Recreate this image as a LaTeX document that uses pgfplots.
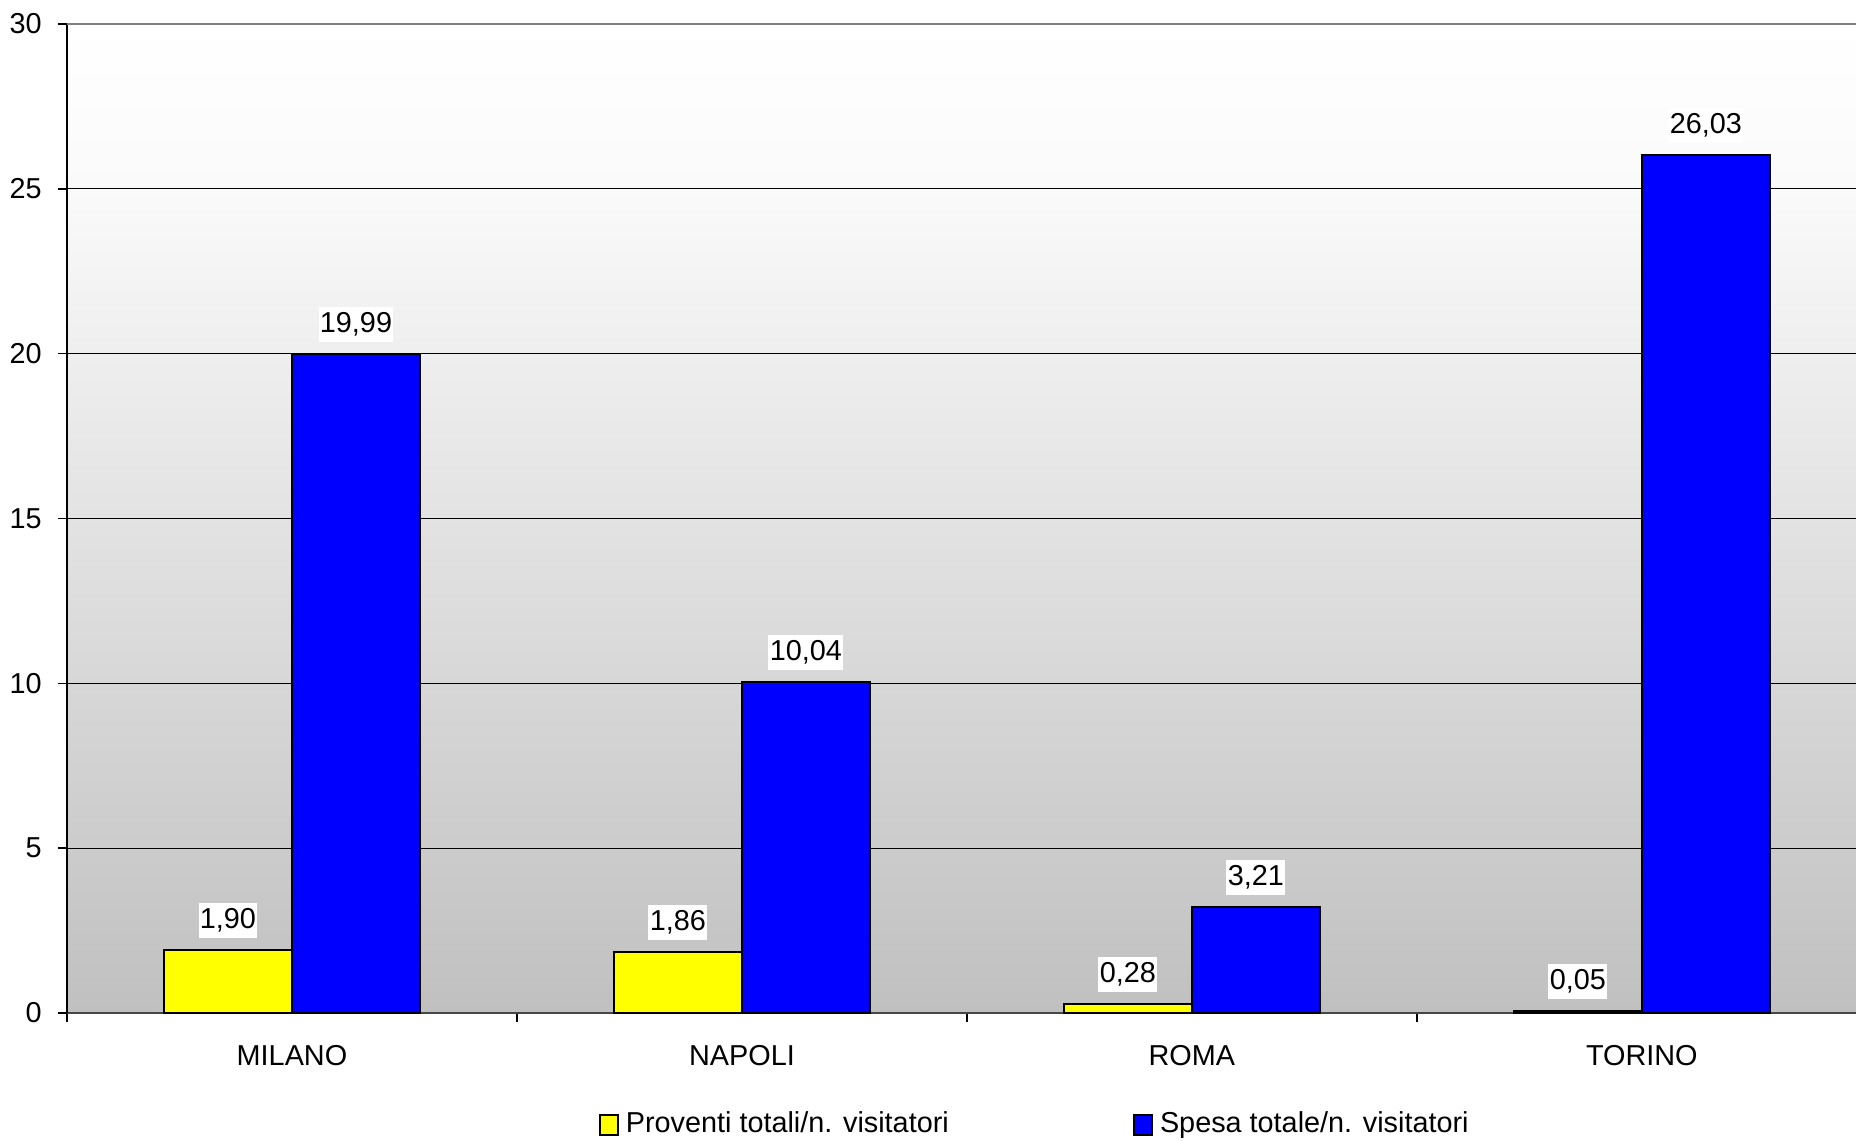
\documentclass[border=0pt]{standalone}
\usepackage{fontspec}
\setmainfont{Liberation Sans}
\usepackage{pgfplots}
\pgfplotsset{compat=1.18}
\definecolor{barYellow}{RGB}{255,255,0}
\definecolor{barBlue}{RGB}{0,0,255}
\definecolor{bgBottom}{RGB}{192,192,192}
\definecolor{bgUpper}{RGB}{250,250,250}
\definecolor{topLine}{RGB}{128,128,128}
\definecolor{baseLine}{RGB}{70,70,70}
% plot area: light grey at the bottom, almost white above 25
\pgfdeclareverticalshading{plotbg}{100bp}{color(0bp)=(bgBottom); color(25bp)=(bgBottom);
  color(66.7bp)=(bgUpper); color(75bp)=(white); color(100bp)=(white)}

\begin{document}
\begin{tikzpicture}[font=\fontsize{8.2pt}{10pt}\selectfont]
\path[use as bounding box] (-6.7mm,-12.7mm) rectangle (178.9mm,101.3mm);
\begin{axis}[
    scale only axis, width=178.9mm, height=98.9mm,
    ybar=0pt, bar width=12.8mm,
    xmin=0, xmax=3.976, ymin=0, ymax=30, enlargelimits=false,
    axis x line*=bottom, axis y line*=left,
    axis background/.style={shading=plotbg},
    y axis line style={black, line width=0.45pt},
    x axis line style={baseLine, line width=0.55pt},
    tick align=outside, major tick length=0.9mm,
    tick style={black, line width=0.4pt},
    ytick={0,5,...,30},
    ymajorgrids, grid style={black, line width=0.3pt},
    yticklabel style={xshift=-0.4mm},
    /pgf/number format/assume math mode=true,
    xtick={0,1,2,3}, xticklabels={,,,},
    extra x ticks={0.5,1.5,2.5,3.5},
    extra x tick labels={MILANO,NAPOLI,ROMA,TORINO},
    extra x tick style={major tick length=0pt, xticklabel style={yshift=-2mm}},
    nodes near coords={\pgfmathprintnumber[fixed,fixed zerofill,precision=2,use comma]{\pgfplotspointmeta}},
    every node near coord/.append style={fill=white, text=black, inner xsep=0.4pt, inner ysep=1.6pt, anchor=south, yshift=1.1mm},
    legend columns=2,
    legend style={at={(0.2968,-0.1132)}, anchor=west, draw=none, fill=none, inner sep=0pt,
        /tikz/every even column/.append style={column sep=17.7mm}},
]
\addplot[fill=barYellow, draw=black, line width=0.6pt,
    legend image code/.code={\draw[fill=barYellow, draw=black, line width=0.6pt] (0mm,-1mm) rectangle (1.8mm,1mm);}]
    coordinates {(0.5,1.90) (1.5,1.86) (2.5,0.28) (3.5,0.05)};
\addlegendentry{Proventi totali/n. visitatori}
\addplot[fill=barBlue, draw=black, line width=0.6pt,
    legend image code/.code={\draw[fill=barBlue, draw=black, line width=0.6pt] (0mm,-1mm) rectangle (1.8mm,1mm);}]
    coordinates {(0.5,19.99) (1.5,10.04) (2.5,3.21) (3.5,26.03)};
\addlegendentry{Spesa totale/n. visitatori}
\draw[topLine, line width=0.5pt] (rel axis cs:0,1) -- (rel axis cs:1,1);
\end{axis}
\end{tikzpicture}
\end{document}
